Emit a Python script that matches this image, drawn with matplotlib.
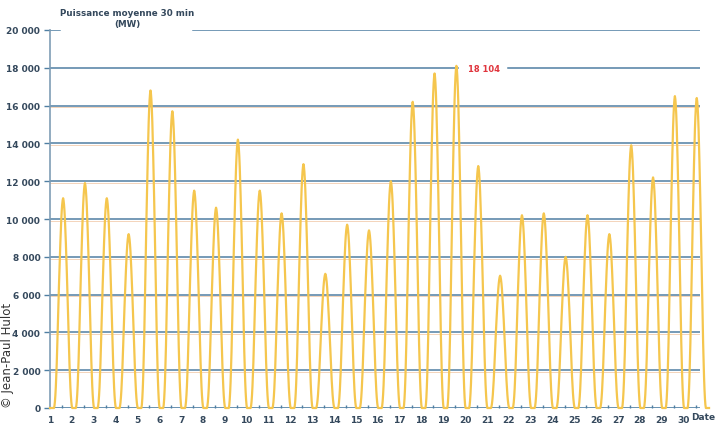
import numpy as np
import matplotlib
matplotlib.use("Agg")
import matplotlib.pyplot as plt

# peak of each day (MW)
days = list(range(1, 31))
peaks = [11100, 11900, 11100, 9200, 16800, 15700, 11500, 10600, 14200, 11500,
         10300, 12900, 7100, 9700, 9400, 12000, 16200, 17700, 18104, 12800,
         7000, 10200, 10300, 8000, 10200, 9200, 13900, 12200, 16500, 16400]

# half-hourly shape of a day's curve (share of the day's peak),
# starting a little after the day tick
rise = [0, 0.01, 0.03, 0.06, 0.10, 0.15, 0.21, 0.28, 0.36, 0.44, 0.52,
        0.59, 0.66, 0.73, 0.79, 0.85, 0.90, 0.94, 0.97, 0.99, 1.0]
profile = rise + rise[-2::-1] + [0] * 7
start = 0.183

yticks = list(range(0, 20001, 2000))
ylabels = ["0" if v == 0 else f"{v // 1000} 000" for v in yticks]

t, p = [1], [0]
for d, pk in zip(days, peaks):
    for i, s in enumerate(profile):
        t.append(d + start + i / len(profile))
        p.append(pk * s)

grid_col = "#4f7fa3"
txt_col = "#34485c"

fig = plt.figure(figsize=(7.15, 4.31), dpi=100)
ax = fig.add_axes([50 / 715, 1 - 409 / 431, 650 / 715, 378 / 431])

# gaps in the grid where the title and the max label sit
gaps = {20000: (60, 193), 18000: (458, 508)}
for v in yticks[1:]:
    if v in gaps:
        a, b = gaps[v]
        ax.axhline(v, 0, (a - 50) / 650, color=grid_col, lw=1.1, zorder=1)
        ax.axhline(v, (b - 50) / 650, 1, color=grid_col, lw=1.1, zorder=1)
    else:
        ax.axhline(v, color=grid_col, lw=1.1, zorder=1)
        ax.axhline(v - 90, color="#f3cdb0", lw=0.6, zorder=1)
ax.axhline(0, color=grid_col, lw=1.2, zorder=1)

ax.plot(t, p, color="#f5c64e", lw=1.6, zorder=3, clip_on=False)

ax.set_xlim(1, 1 + 650 / 21.85)
ax.set_ylim(0, 20000)
ax.set_xticks(days)
ax.set_xticklabels([str(d) for d in days])
ax.set_xticks([d + 0.55 for d in days], minor=True)
ax.set_yticks(yticks)
ax.set_yticklabels(ylabels)
ax.tick_params(axis="y", length=4, width=1, color=grid_col, labelsize=6.5,
               labelcolor=txt_col, pad=3)
ax.tick_params(axis="x", length=0, labelsize=6.5, labelcolor=txt_col, pad=5)
ax.tick_params(axis="x", which="minor", direction="in", length=2.5, width=1,
               color=grid_col)
for lab in ax.get_xticklabels() + ax.get_yticklabels():
    lab.set_fontweight("bold")

for s in ["top", "right", "bottom"]:
    ax.spines[s].set_visible(False)
ax.spines["left"].set_color("#7f9db5")
ax.spines["left"].set_linewidth(1.2)

fig.text(127 / 715, 1 - 19 / 431, "Puissance moyenne 30 min\n(MW)", ha="center",
         va="center", fontsize=6.3, fontweight="bold", color=txt_col,
         linespacing=1.15)
fig.text(484 / 715, 1 - 69 / 431, "18 104", ha="center", va="center",
         fontsize=6, fontweight="bold", color="#e0353d")
fig.text(703 / 715, 1 - 418 / 431, "Date", ha="center", va="center",
         fontsize=6.5, fontweight="bold", color=txt_col)
fig.text(0.001, 1 - 355 / 431, "© Jean-Paul Hulot", rotation=90, ha="left",
         va="center", fontsize=8.5, color="#333333")

fig.savefig("out.png", dpi=100)
